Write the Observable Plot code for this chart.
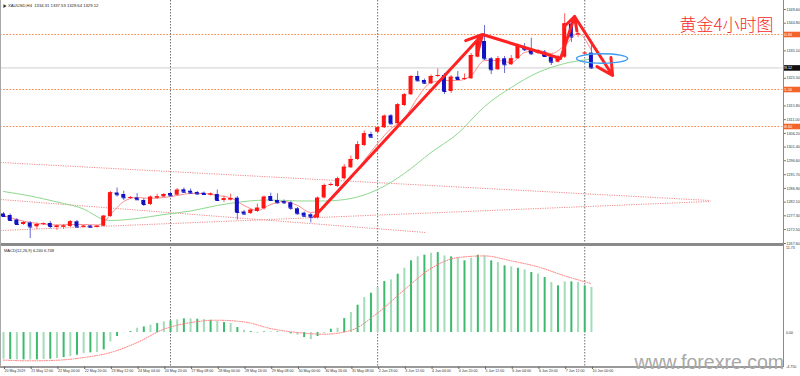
<!DOCTYPE html>
<html><head><meta charset="utf-8">
<script src="https://cdn.jsdelivr.net/npm/d3@7"></script>
<script src="https://cdn.jsdelivr.net/npm/@observablehq/plot@0.6"></script>
<style>
html,body{margin:0;padding:0;background:#fff;}
#wrap{position:relative;width:800px;height:376px;overflow:hidden;background:#fff;}
#main{position:absolute;left:0;top:0;}
#macd{position:absolute;left:0;top:246px;}
#sep{position:absolute;left:0;top:243px;width:784px;height:2.5px;background:#8a8a8a;}
#vaxis{position:absolute;left:783px;top:0;width:1px;height:367px;background:#8a8a8a;}
#lborder{position:absolute;left:0;top:0;width:1px;height:367px;background:#a8a8a8;}
</style></head>
<body><div id="wrap"><div id="main"></div><div id="macd"></div><div id="sep"></div><div id="vaxis"></div><div id="lborder"></div></div>
<script>
// ---------- price data (XAUUSD H4, bar index 0 = 20 May 2019 00:00) ----------
const opens = [1277.94,1277.41,1275.84,1274.26,1274.79,1273.45,1274.26,1274.61,1273.21,1273.31,
 1273.56,1275.21,1273.31,1273.73,1273.31,1273.66,1277.06,1285.30,1284.77,1283.48,
 1283.55,1282.67,1281.27,1283.48,1283.90,1285.12,1284.53,1286.42,1285.93,1285.47,
 1285.23,1284.60,1284.77,1282.67,1282.78,1283.48,1278.64,1278.11,1278.82,1279.76,
 1284.07,1282.67,1282.32,1281.86,1279.76,1278.22,1277.66,1276.54,1283.55,1288.03,
 1287.58,1290.27,1294.13,1297.04,1301.94,1305.80,1306.60,1308.14,1312.35,1309.55,
 1315.96,1319.71,1326.12,1324.72,1323.56,1326.29,1326.47,1320.86,1325.87,1325.17,
 1325.31,1332.88,1338.38,1332.32,1328.47,1332.32,1330.22,1332.32,1336.39,1335.48,
 1334.28,1334.63,1332.88,1331.13,1332.88,1344.52,1340.84,1334.18,1334.31];
const highs = [1278.47,1277.94,1276.36,1275.31,1275.31,1274.79,1274.79,1275.31,1274.09,1274.26,
 1275.66,1275.66,1273.91,1273.91,1273.91,1277.41,1285.82,1287.05,1285.93,1284.07,
 1285.12,1283.37,1284.25,1284.88,1285.12,1285.65,1286.87,1287.05,1286.70,1285.82,
 1285.65,1285.30,1286.35,1284.25,1284.88,1284.07,1279.17,1279.69,1281.44,1284.25,
 1285.23,1285.02,1282.85,1282.32,1280.22,1278.64,1278.11,1283.90,1288.45,1288.80,
 1290.90,1295.28,1298.26,1303.34,1307.02,1306.60,1308.60,1312.63,1312.80,1316.66,
 1320.16,1326.47,1327.87,1325.24,1326.65,1328.75,1327.17,1326.47,1327.87,1327.00,
 1334.18,1339.08,1343.99,1332.78,1333.13,1333.13,1333.48,1337.51,1337.68,1339.54,
 1335.58,1335.23,1333.48,1333.48,1348.09,1345.74,1341.54,1334.70,1337.53];
const lows = [1276.71,1275.31,1273.91,1273.91,1269.35,1272.51,1273.91,1272.69,1272.16,1272.51,
 1273.21,1272.86,1273.03,1273.03,1273.03,1273.39,1276.71,1283.90,1282.67,1283.02,
 1282.67,1280.57,1280.92,1283.02,1283.72,1283.90,1284.25,1285.12,1284.77,1284.60,
 1284.42,1284.25,1282.32,1281.97,1282.49,1275.84,1277.41,1277.76,1278.47,1279.34,
 1282.32,1281.44,1281.27,1279.17,1277.59,1276.71,1274.79,1276.19,1283.20,1287.58,
 1287.23,1289.85,1293.88,1296.69,1301.59,1304.57,1306.15,1307.90,1309.13,1309.13,
 1315.61,1319.46,1324.19,1323.32,1323.32,1325.77,1319.81,1320.16,1324.72,1324.72,
 1325.07,1332.60,1331.73,1326.82,1328.22,1327.17,1329.97,1332.08,1334.88,1333.48,
 1333.83,1332.78,1329.97,1330.85,1332.43,1338.03,1339.79,1333.83,1328.64];
const closes = [1277.06,1275.66,1274.26,1274.96,1273.39,1274.26,1274.51,1273.56,1273.73,1273.73,
 1275.21,1273.39,1273.66,1273.31,1273.66,1277.17,1285.37,1284.67,1283.62,1283.72,
 1282.92,1281.27,1283.83,1283.97,1284.77,1284.32,1286.28,1285.58,1285.30,1284.95,
 1284.77,1284.95,1282.67,1283.27,1283.37,1278.47,1277.94,1279.27,1279.97,1283.83,
 1282.67,1281.86,1281.86,1279.97,1278.01,1277.17,1276.82,1283.48,1287.93,1288.28,
 1290.27,1294.34,1297.04,1302.19,1306.04,1304.85,1308.14,1312.21,1309.55,1316.20,
 1319.71,1326.12,1324.61,1323.77,1326.12,1326.47,1320.86,1325.87,1325.07,1325.42,
 1333.48,1338.49,1332.32,1328.47,1332.32,1330.22,1332.32,1336.98,1335.48,1334.07,
 1334.98,1333.13,1331.13,1332.88,1344.59,1339.96,1341.01,1334.32,1329.12];

// fast moving average (pink) read at selected bars
const pinkBars = [0,2,4,6,8,10,12,14,15,16,17,18,20,22,24,26,28,30,32,34,36,38,40,42,44,46,47,48,50,52,54,56,58,60,62,64,66,68,70,72,74,76,78,80,82,84,86,88];
const pinkVals = [1277.41,1276.01,1274.96,1274.43,1274.09,1274.26,1274.26,1274.09,1274.96,1277.76,1280.22,1282.32,1283.72,1283.37,1283.72,1284.42,1285.12,1285.12,1284.42,1283.55,1280.92,1279.17,1281.27,1282.32,1280.92,1278.47,1278.82,1280.57,1285.12,1290.38,1296.69,1302.65,1307.90,1311.40,1318.76,1324.02,1324.72,1324.72,1326.47,1331.73,1331.73,1331.03,1334.53,1335.23,1334.18,1336.98,1341.19,1335.23];
// slow moving average (green) read at selected bars
const greenBars = [0,4,8,12,15,16,20,24,28,32,36,40,44,48,52,56,60,64,68,72,76,80,84,88];
const greenVals = [1285.82,1284.25,1282.15,1279.69,1276.01,1275.66,1276.36,1277.76,1278.99,1280.92,1282.32,1282.85,1282.50,1282.50,1283.37,1286.52,1292.13,1299.49,1306.15,1315.61,1322.27,1327.52,1330.67,1332.25];

// horizontal levels and current price
const levels = [1340.84, 1321.56, 1308.60];
const levelLabels = ["1340.84", "1321.56", "1308.60"];
const lastPrice = 1329.12;
const lastPriceLabel = "1329.12";

// channel (dotted) trend lines
const chanX1 = [-0.45, -0.45, -0.45];
const chanY1 = [1295.99, 1272.16, 1283.02];
const chanX2 = [105.8, 105.8, 63.2];
const chanY2 = [1282.67, 1282.32, 1271.46];

// red annotation arrows (bar index, price)
const arrowX1 = [46.56, 83.38, 85.48];
const arrowY1 = [1277.06, 1332.43, 1347.14];
const arrowX2 = [71.7, 85.48, 91.17];
const arrowY2 = [1340.84, 1347.14, 1326.47];
const segX1 = [71.7], segY1 = [1340.84], segX2 = [83.38], segY2 = [1332.43];
// blue ellipse centre
const ellipseX = [89.6], ellipseY = [1332.43];

// week separators (bar index)
const sepBars = [25, 56, 87];

// right axis ticks
const priceTicks = [1267.60,1272.50,1277.30,1282.10,1286.90,1291.70,1296.60,1301.40,1306.20,1311.00,1315.80,1325.50,1335.10,1344.80,1349.60];

// time axis
const timeLabelBars = [0,4,8,12,16,20,24,28,32,36,40,44,48,52,56,60,64,68,72,76,80,84,88];
const timeLabels = ["20 May 2019","21 May 12:00","22 May 04:00","22 May 20:00","23 May 12:00","24 May 04:00","24 May 20:00","27 May 08:00","28 May 00:00","28 May 16:00","29 May 08:00","30 May 00:00","30 May 16:00","31 May 08:00","2 Jun 23:00","3 Jun 12:00","4 Jun 04:00","4 Jun 20:00","5 Jun 12:00","6 Jun 04:00","6 Jun 20:00","7 Jun 12:00","10 Jun 00:00"];

// MACD histogram (one per bar) and signal line read at selected bars
const macdHist = [-3.68,-3.72,-3.77,-3.77,-3.77,-3.77,-3.72,-3.68,-3.59,-3.45,
 -3.31,-3.13,-2.90,-2.80,-2.76,-2.39,-1.29,-0.55,-0.05,0.14,
 0.60,0.78,1.01,1.24,1.47,1.61,1.75,1.89,1.89,1.84,
 1.79,1.70,1.52,1.38,1.24,0.69,0.32,0.14,-0.09,0.09,
 0.09,0.09,0.05,-0.18,-0.37,-0.69,-0.97,-0.55,-0.14,0.46,
 0.60,1.93,2.76,3.77,4.83,5.43,6.21,7.03,7.26,8.05,
 8.87,9.89,10.44,10.67,10.94,11.03,10.57,10.44,10.25,9.89,
 10.25,10.67,10.57,9.89,9.66,9.20,9.06,8.87,8.64,8.28,
 8.05,7.59,6.90,6.44,6.99,6.99,6.90,6.44,6.24];
const signalBars = [0,4,8,12,16,20,24,28,32,36,40,44,48,52,56,60,64,68,72,76,80,84,88];
const signalVals = [-3.80,-3.90,-3.82,-3.45,-2.76,-1.38,0.46,1.38,1.70,1.47,0.55,0.00,-0.23,0.30,2.70,5.90,8.85,10.34,10.57,9.89,9.06,7.82,6.75];
const macdTicks = [11.73, 0, -4.75];
const macdTickLabels = ["11.73", "0.00", "-4.750"];

// texts
const titleText = "XAUUSD,H4  1334.31 1337.53 1328.64 1329.12";
const macdTitle = "MACD(12,26,9) 6.240 6.748";
const cnTitle = "黄金4小时图";
const watermark = "www.forexre.com";

// ---------- build ----------
const xDomain = [-0.45, 116.75];
const priceDomain = [1267.6, 1352.75];
const macdDomain = [-4.75, 11.73];
const RED = "#ff1414", BLUE = "#1212c4", REDW = "#ff5a5a", BLUEW = "#6a6ad2";
const FONT = "'Liberation Sans', Arial, sans-serif";

const bars = opens.map((o, i) => ({i, open: o, high: highs[i], low: lows[i], close: closes[i], up: closes[i] >= o}));
const pink = pinkBars.map((b, k) => ({i: b, v: pinkVals[k]}));
const green = greenBars.map((b, k) => ({i: b, v: greenVals[k]}));
const chans = chanX1.map((x, k) => ({x1: x, y1: chanY1[k], x2: chanX2[k], y2: chanY2[k]}));
const arrows = arrowX1.map((x, k) => ({x1: x, y1: arrowY1[k], x2: arrowX2[k], y2: arrowY2[k]}));
const segs = segX1.map((x, k) => ({x1: x, y1: segY1[k], x2: segX2[k], y2: segY2[k]}));
const ell = ellipseX.map((x, k) => ({x, y: ellipseY[k]}));
const hist = macdHist.map((v, i) => ({i, v}));
const signal = signalBars.map((b, k) => ({i: b, v: signalVals[k]}));

const ellipseSymbol = {draw(ctx) {
  const rx = 25.5, ry = 4.8, k = 0.5523;
  ctx.moveTo(rx, 0);
  ctx.bezierCurveTo(rx, ry * k, rx * k, ry, 0, ry);
  ctx.bezierCurveTo(-rx * k, ry, -rx, ry * k, -rx, 0);
  ctx.bezierCurveTo(-rx, -ry * k, -rx * k, -ry, 0, -ry);
  ctx.bezierCurveTo(rx * k, -ry, rx, -ry * k, rx, 0);
  ctx.closePath();
}};
const boxSymbol = {draw(ctx) { ctx.rect(-8.3, -2.8, 16.6, 5.6); }};

const main = Plot.plot({
  width: 800, height: 243,
  marginLeft: 0, marginRight: 17, marginTop: 0, marginBottom: 0,
  style: {background: "transparent", fontFamily: FONT, fontSize: "3.7px", color: "#333", overflow: "visible"},
  x: {domain: xDomain, axis: null},
  y: {domain: priceDomain, axis: null},
  marks: [
    Plot.ruleY(levels, {stroke: "#f7874c", strokeDasharray: "1.6,1.6", strokeWidth: 1}),
    Plot.ruleY([lastPrice], {stroke: "#cdcdcd", strokeWidth: 1}),
    Plot.ruleX(sepBars, {stroke: "#707070", strokeDasharray: "1.5,1.5", strokeWidth: 1}),
    Plot.link(chans, {x1: "x1", y1: "y1", x2: "x2", y2: "y2", stroke: "#f08a8a", strokeDasharray: "1.2,1.2", strokeWidth: 1}),
    Plot.line(green, {x: "i", y: "v", stroke: "#8fd88f", strokeWidth: 1, curve: "monotone-x"}),
    Plot.line(pink, {x: "i", y: "v", stroke: "#ff8c8c", strokeWidth: 1, curve: "monotone-x"}),
    Plot.ruleX(bars, {x: "i", y1: "low", y2: "high", stroke: d => d.up ? REDW : BLUEW, strokeWidth: 1}),
    Plot.rect(bars, {x1: d => d.i - 0.3, x2: d => d.i + 0.3, y1: "open", y2: "close", fill: d => d.up ? RED : BLUE}),
    Plot.link(bars, {x1: d => d.i - 0.3, x2: d => d.i + 0.3, y1: "close", y2: "close", stroke: d => d.up ? RED : BLUE, strokeWidth: 1}),
    Plot.link(segs, {x1: "x1", y1: "y1", x2: "x2", y2: "y2", stroke: "#ff2222", strokeWidth: 3}),
    Plot.arrow(arrows, {x1: "x1", y1: "y1", x2: "x2", y2: "y2", stroke: "#ff2222", strokeWidth: 3, headLength: 9, headAngle: 55}),
    Plot.dot(ell, {x: "x", y: "y", symbol: ellipseSymbol, stroke: "#3a9cf0", strokeWidth: 1.4, fill: "none"}),
    Plot.axisY(priceTicks, {anchor: "right", tickSize: 2, tickPadding: 1, fontSize: 3.7, tickFormat: d => d.toFixed(2), label: null, stroke: "#777"}),
    Plot.dot(levels, {y: d => d, frameAnchor: "right", dx: 8.5, symbol: boxSymbol, fill: "#f2642a", stroke: "none"}),
    Plot.text(levels, {y: d => d, frameAnchor: "right", dx: 8.5, text: (d, k) => levelLabels[k], fill: "white", fontSize: 3.7}),
    Plot.dot([lastPrice], {y: d => d, frameAnchor: "right", dx: 8.5, symbol: boxSymbol, fill: "#111", stroke: "none"}),
    Plot.text([lastPrice], {y: d => d, frameAnchor: "right", dx: 8.5, text: () => lastPriceLabel, fill: "white", fontSize: 3.7}),
    Plot.dot([titleText], {frameAnchor: "top-left", dx: 4, dy: 5.6, symbol: "triangle", r: 1.4, fill: "#333", rotate: 90}),
    Plot.text([titleText], {frameAnchor: "top-left", dx: 7.5, dy: 4, textAnchor: "start", lineAnchor: "top", fontSize: 4.2, fill: "#222"}),
    Plot.text([cnTitle], {frameAnchor: "top-right", dx: -10, dy: 30, textAnchor: "end", lineAnchor: "bottom", fontSize: 17, fill: "#f42a2a", fontFamily: "'Noto Sans CJK SC', sans-serif", fontWeight: 300})
  ]
});
document.getElementById("main").appendChild(main);

const macd = Plot.plot({
  width: 800, height: 130,
  marginLeft: 0, marginRight: 17, marginTop: 1, marginBottom: 9.5,
  style: {background: "transparent", fontFamily: FONT, fontSize: "3.6px", color: "#333", overflow: "visible"},
  x: {domain: xDomain, axis: null},
  y: {domain: macdDomain, axis: null},
  marks: [
    Plot.ruleX(sepBars, {stroke: "#707070", strokeDasharray: "1.5,1.5", strokeWidth: 1}),
    Plot.ruleX(hist, {x: "i", y1: 0, y2: "v", stroke: d => d.i % 2 ? "#3dba6e" : "#a3dcb8", strokeWidth: 2}),
    Plot.line(signal, {x: "i", y: "v", stroke: "#ff7a7a", strokeWidth: 1, strokeDasharray: "1,1.4", curve: "monotone-x"}),
    Plot.ruleY([macdDomain[0]], {stroke: "#777", strokeWidth: 1.5}),
    Plot.axisY(macdTicks, {anchor: "right", tickSize: 0, tickPadding: 2.5, fontSize: 3.6, tickFormat: d => macdTickLabels[macdTicks.indexOf(d)], label: null}),
    Plot.axisX(timeLabelBars, {anchor: "bottom", tickSize: 2.5, tickPadding: 0, fontSize: 3.6, textAnchor: "start", dx: 1, tickFormat: d => timeLabels[timeLabelBars.indexOf(d)], label: null, stroke: "#666"}),
    Plot.text([macdTitle], {frameAnchor: "top-left", dx: 3.5, dy: 1.2, textAnchor: "start", lineAnchor: "top", fontSize: 4, fill: "#222"}),
    Plot.text([watermark], {frameAnchor: "bottom-right", dx: 0.5, dy: 1.5, textAnchor: "end", lineAnchor: "bottom", fontSize: 19.5, fill: "#a8a8a8", fontFamily: FONT})
  ]
});
document.getElementById("macd").appendChild(macd);
</script>
</body></html>
